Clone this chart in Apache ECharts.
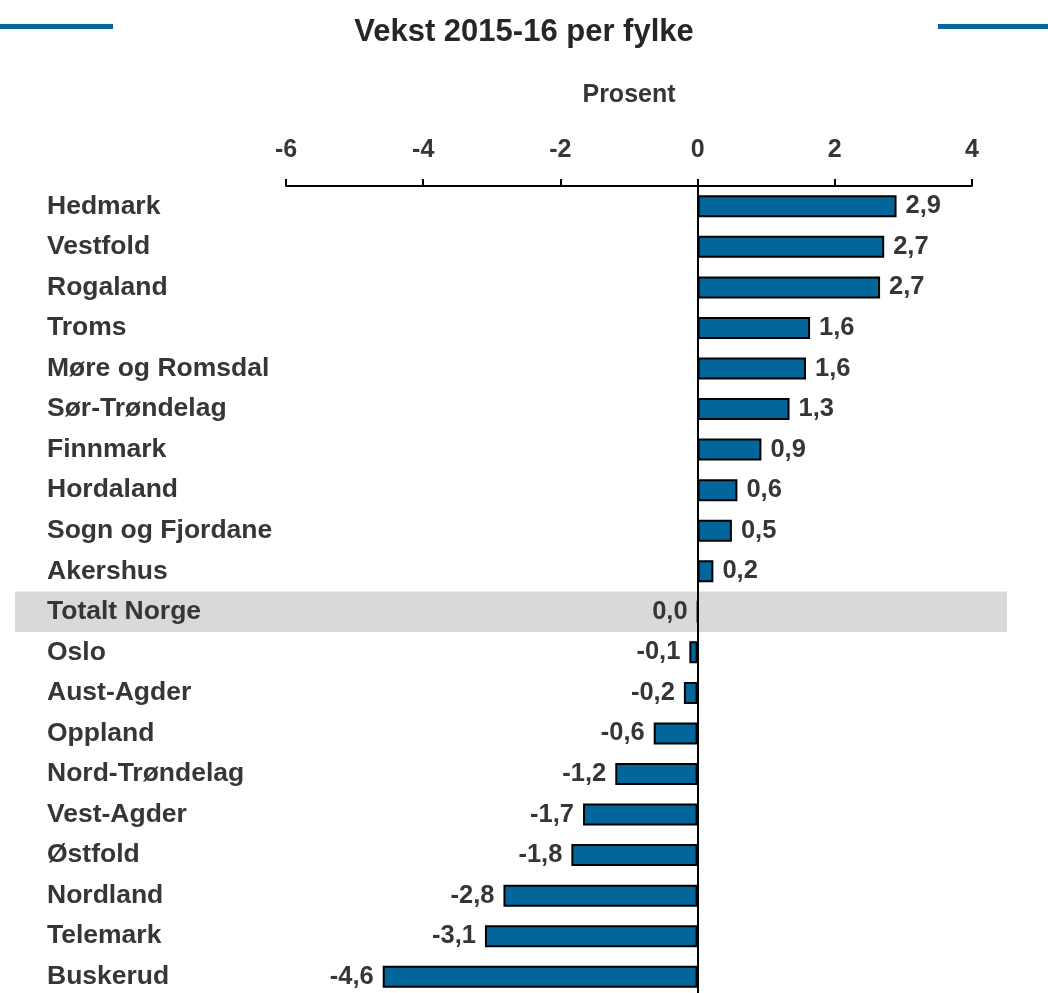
<!DOCTYPE html>
<html>
<head>
<meta charset="utf-8">
<script src="https://cdn.jsdelivr.net/npm/echarts@6/dist/echarts.min.js"></script>
<style>html,body{margin:0;padding:0;background:#fff;}#c{width:1048px;height:993px;}</style>
</head>
<body>
<div id="c"></div>
<script>
const categories = ['Hedmark','Vestfold','Rogaland','Troms','Møre og Romsdal','Sør-Trøndelag','Finnmark','Hordaland','Sogn og Fjordane','Akershus','Totalt Norge','Oslo','Aust-Agder','Oppland','Nord-Trøndelag','Vest-Agder','Østfold','Nordland','Telemark','Buskerud'];
const values = [2.9, 2.72, 2.66, 1.64, 1.58, 1.34, 0.93, 0.58, 0.5, 0.23, 0, -0.12, -0.2, -0.64, -1.2, -1.67, -1.84, -2.83, -3.1, -4.59];
const highlightCategory = 'Totalt Norge';
const xTicks = {min: -6, max: 4, interval: 2};

const font = 'Liberation Sans, Arial, sans-serif';
const txt = '#363636';
const chart = echarts.init(document.getElementById('c'));
const gridTop = 186, gridHeight = 811;

chart.setOption({
  animation: false,
  title: {
    text: 'Vekst 2015-16 per fylke', left: 'center', top: 12,
    textStyle: {fontFamily: font, fontSize: 31, fontWeight: 'bold', color: '#262626'}
  },
  grid: {left: 286, right: 76, top: gridTop, height: gridHeight, containLabel: false, outerBoundsMode: 'none'},
  xAxis: {
    type: 'value', position: 'top', min: xTicks.min, max: xTicks.max, interval: xTicks.interval,
    name: 'Prosent', nameLocation: 'middle', nameGap: 78,
    nameTextStyle: {fontFamily: font, fontSize: 25, fontWeight: 'bold', color: txt},
    axisLine: {show: true, lineStyle: {color: '#000', width: 2}},
    axisTick: {show: true, length: 7, lineStyle: {color: '#000', width: 2}},
    axisLabel: {fontFamily: font, fontSize: 25, fontWeight: 'bold', color: txt, margin: 23},
    splitLine: {show: false}
  },
  yAxis: {
    type: 'category', inverse: true, data: categories,
    axisLine: {show: false}, axisTick: {show: false},
    axisLabel: {align: 'left', margin: 239, fontFamily: font, fontSize: 26.5, fontWeight: 'bold', color: txt, padding: [4, 0, 0, 0]}
  },
  series: [{
    type: 'bar', z: 3,
    barWidth: 22,
    itemStyle: {color: '#03669a', borderColor: '#000', borderWidth: 2},
    data: values.map(v => ({
      value: v,
      label: {position: v > 0 ? 'right' : 'left'}
    })),
    label: {
      show: true, distance: 9, padding: [3, 0, 0, 0],
      fontFamily: font, fontSize: 25.5, fontWeight: 'bold', color: txt,
      formatter: p => p.value.toFixed(1).replace('.', ',')
    },
    markLine: {
      silent: true, symbol: 'none', label: {show: false},
      lineStyle: {color: '#000', width: 2, type: 'solid'},
      data: [{xAxis: 0}]
    }
  }]
});

const yc = chart.convertToPixel({yAxisIndex: 0}, highlightCategory);
const band = gridHeight / categories.length;
chart.setOption({
  graphic: [
    {type: 'rect', z: -10, silent: true, shape: {x: 15, y: yc - band / 2, width: 992, height: band}, style: {fill: '#d9d9d9'}},
    {type: 'rect', silent: true, shape: {x: 0, y: 24, width: 113, height: 5}, style: {fill: '#08679a'}},
    {type: 'rect', silent: true, shape: {x: 938, y: 24, width: 110, height: 5}, style: {fill: '#08679a'}}
  ]
});
</script>
</body>
</html>
